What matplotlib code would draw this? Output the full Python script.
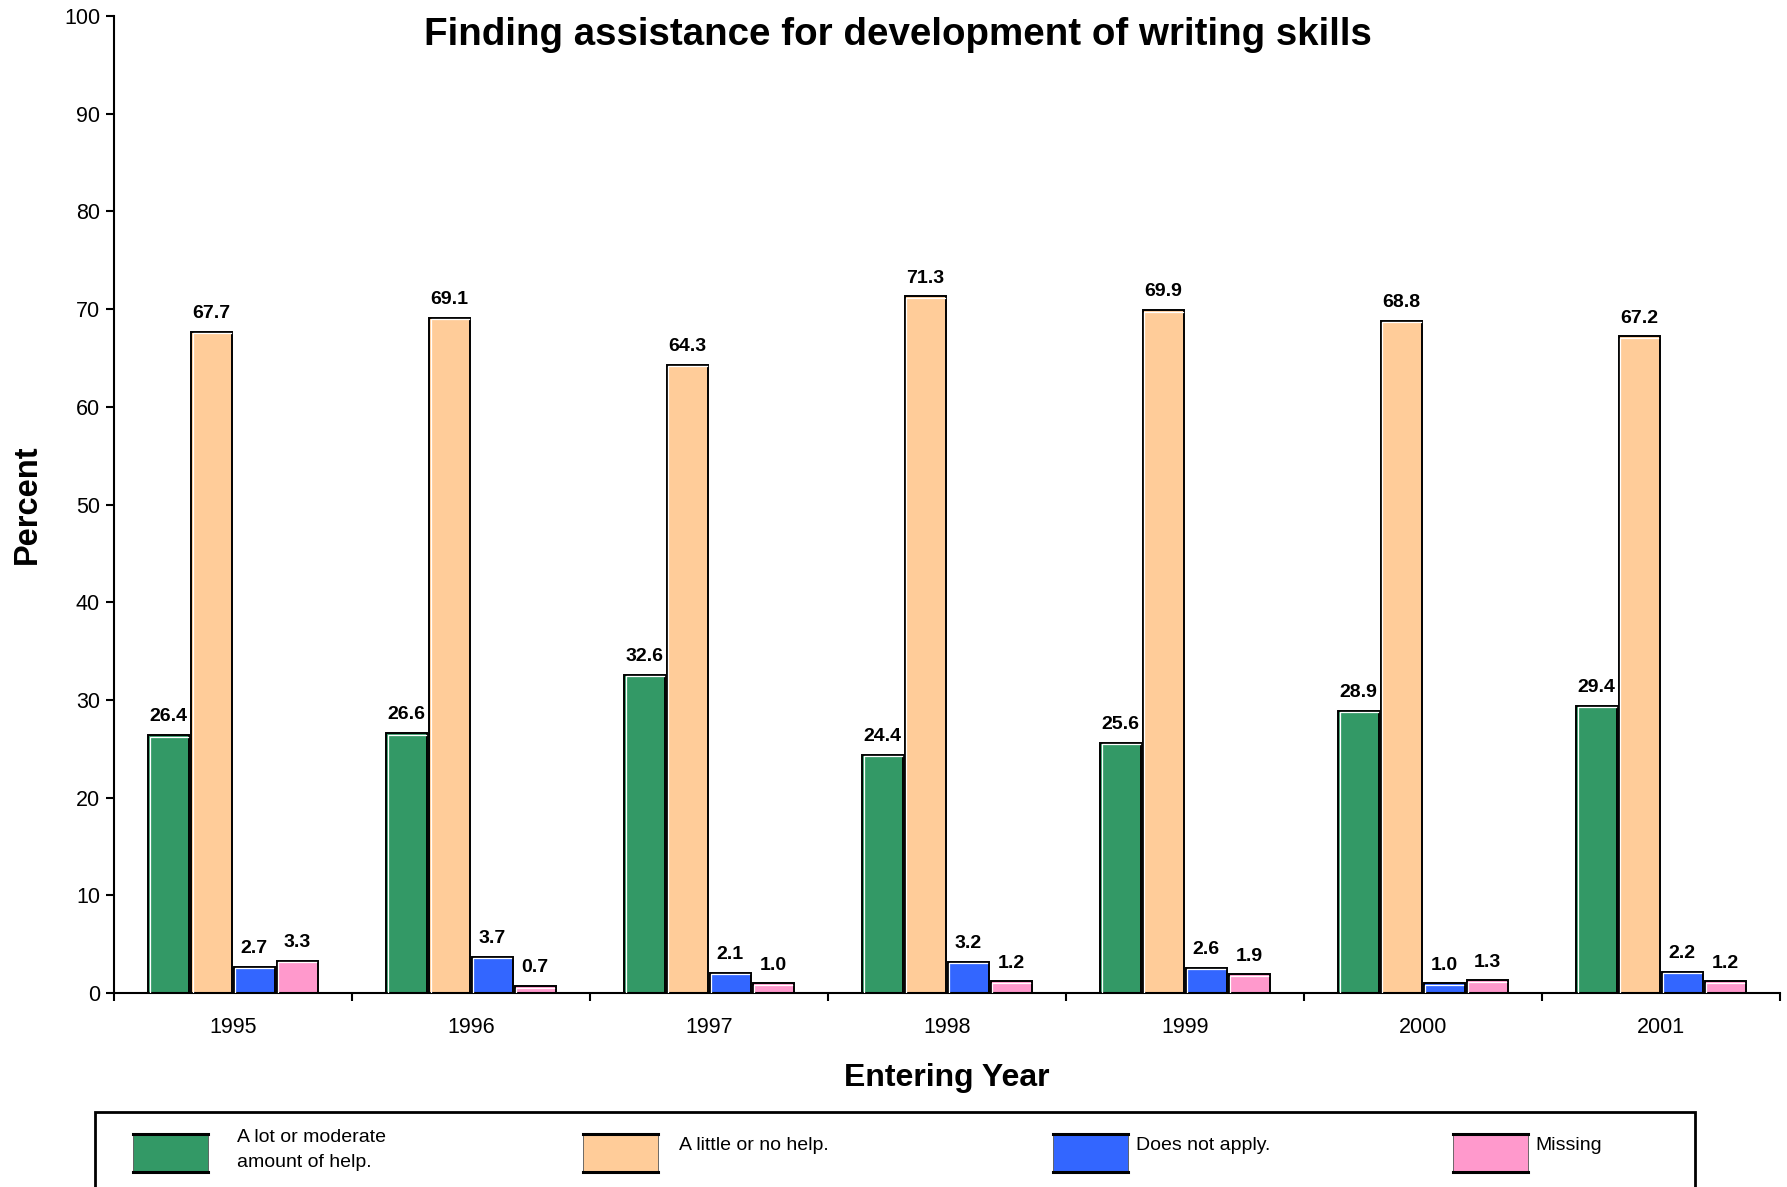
import numpy as np
import matplotlib.pyplot as plt
from matplotlib.patches import Rectangle
from matplotlib.lines import Line2D

plt.rcParams['font.family'] = ['Liberation Sans', 'DejaVu Sans']

years = ['1995', '1996', '1997', '1998', '1999', '2000', '2001']
series_names = ['A lot or moderate\namount of help.', 'A little or no help.',
                'Does not apply.', 'Missing']
colors = ['#339966', '#FFCC99', '#3366FF', '#FF99CC']

lot_help = [26.4, 26.6, 32.6, 24.4, 25.6, 28.9, 29.4]
little_help = [67.7, 69.1, 64.3, 71.3, 69.9, 68.8, 67.2]
not_apply = [2.7, 3.7, 2.1, 3.2, 2.6, 1.0, 2.2]
missing = [3.3, 0.7, 1.0, 1.2, 1.9, 1.3, 1.2]
series = [lot_help, little_help, not_apply, missing]

fig = plt.figure(figsize=(17.87, 11.87), dpi=100)
ax = fig.add_axes([0.0638, 0.1634, 0.9322, 0.8231])

x = np.arange(len(years))
slot = 0.18
width = 0.172
offsets = (np.arange(4) - 1.5) * slot

for vals, off, col in zip(series, offsets, colors):
    bars = ax.bar(x + off, vals, width, color=col, edgecolor='black', lw=1.4, zorder=2)
    # white highlight on top / left edge, a bit like the old 3D bevel
    for b in bars:
        x0, h = b.get_x(), b.get_height()
        dx, dy = 0.006, 0.16
        ax.plot([x0 + dx, x0 + dx, x0 + b.get_width() - dx], [0, h - dy, h - dy],
                color='white', lw=0.9, zorder=3)
    for xi, v in zip(x + off, vals):
        ax.annotate(f'{v:.1f}', (xi, v), xytext=(0, 7), textcoords='offset points',
                    ha='center', va='bottom', fontsize=14, fontweight='bold')

ax.set_xlim(-0.5, len(years) - 0.5)
ax.set_ylim(0, 100)
ax.set_yticks(np.arange(0, 101, 10))
ax.set_xticks(np.arange(len(years) + 1) - 0.5)
ax.set_xticklabels([])
ax.set_xticks(x, minor=True)
ax.set_xticklabels(years, minor=True)
ax.tick_params(axis='x', which='major', length=6, width=1.5, direction='out')
ax.tick_params(axis='x', which='minor', length=0, pad=17, labelsize=15.5)
ax.tick_params(axis='y', length=6, width=1.5, direction='out', labelsize=15.5, pad=4)

for s in ['top', 'right']:
    ax.spines[s].set_visible(False)
for s in ['left', 'bottom']:
    ax.spines[s].set_linewidth(1.5)

ax.set_ylabel('Percent', fontsize=23.5, fontweight='bold')
ax.yaxis.set_label_coords(-0.043, 0.5)
ax.set_xlabel('Entering Year', fontsize=23, fontweight='bold')
ax.xaxis.set_label_coords(0.5, -0.0715)

fig.text(898 / 1787, 1 - 35 / 1187, 'Finding assistance for development of writing skills',
         ha='center', va='center', fontsize=27.7, fontweight='bold')

# legend box at the bottom (runs off the page like the original)
fig.patches.append(Rectangle((95 / 1787, -0.05), 1600 / 1787, 0.05 + 1 - 1112 / 1187,
                             transform=fig.transFigure, fill=False, ec='black', lw=2))
patch_x = [133, 583, 1053, 1453]
text_x = [237, 679, 1136, 1535]
for px, tx, col, name in zip(patch_x, text_x, colors, series_names):
    x0, y0, w, h = px / 1787, 1 - 1172 / 1187, 75 / 1787, 38 / 1187
    fig.patches.append(Rectangle((x0, y0), w, h, transform=fig.transFigure,
                                 fc=col, ec='#555555', lw=0.6))
    for yy in (y0, y0 + h):
        fig.lines.append(Line2D([x0, x0 + w], [yy, yy], transform=fig.transFigure,
                                color='black', lw=2.2))
    if '\n' in name:
        fig.text(tx / 1787, 1 - 1150 / 1187, name, ha='left', va='center',
                 fontsize=14, linespacing=1.65)
    else:
        fig.text(tx / 1787, 1 - 1145 / 1187, name, ha='left', va='center', fontsize=14)

fig.savefig('out.png', dpi=100)
